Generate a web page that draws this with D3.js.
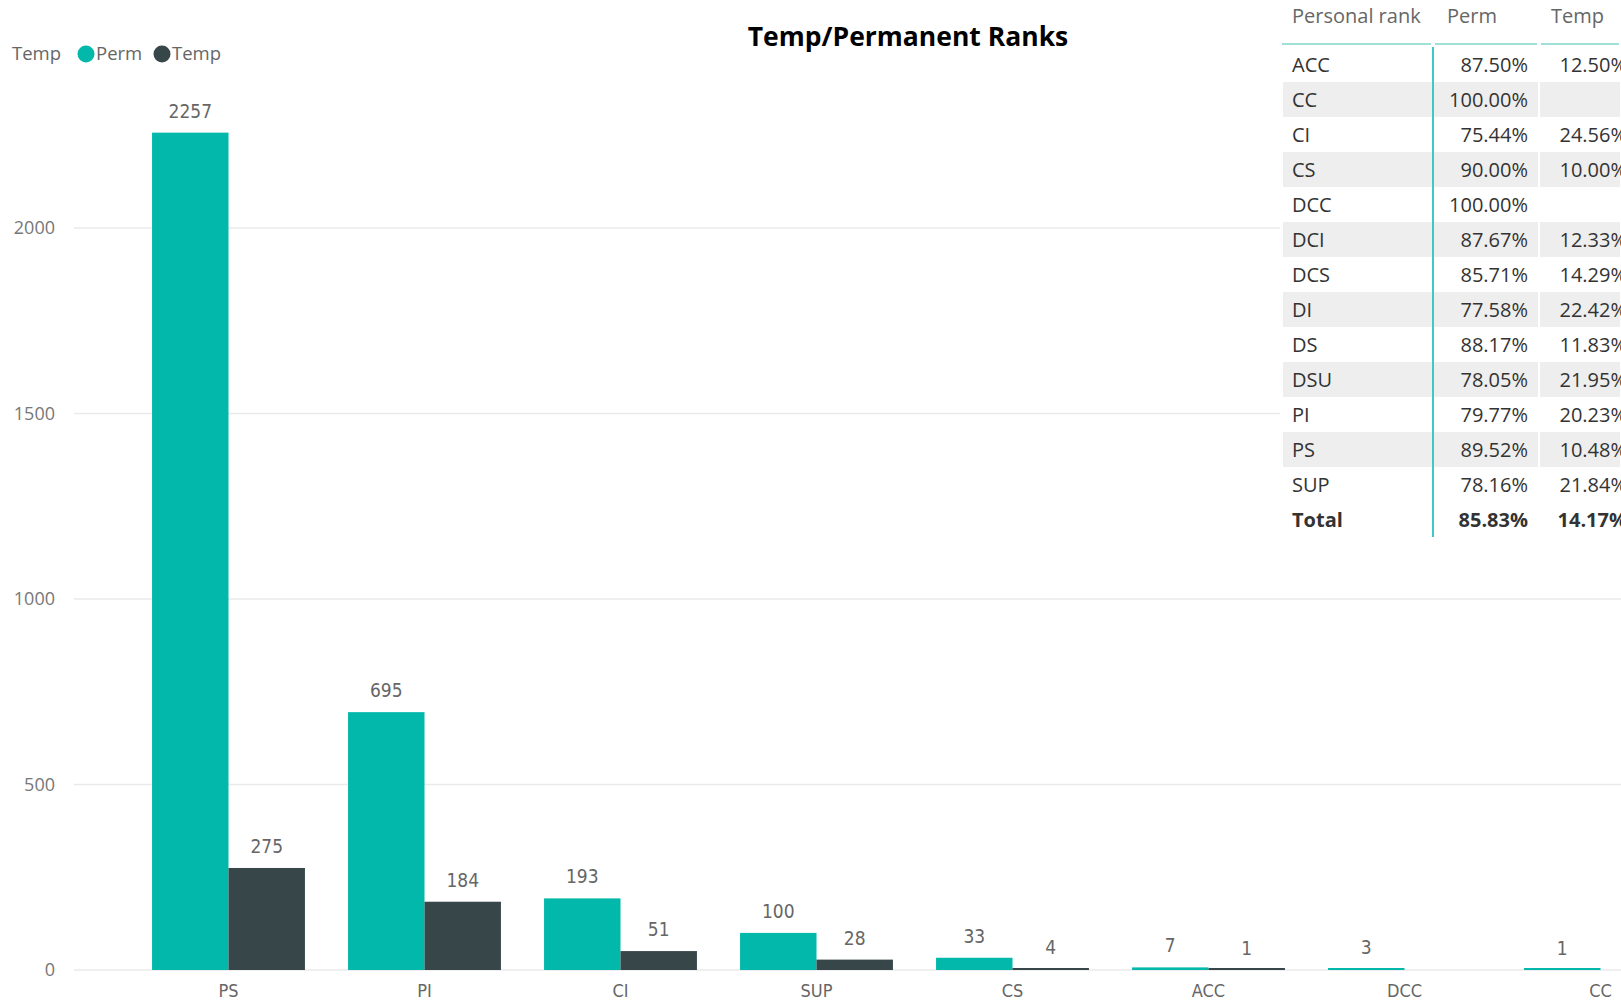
<!DOCTYPE html>
<html>
<head>
<meta charset="utf-8">
<script src="https://cdn.jsdelivr.net/npm/d3@7"></script>
<style>
  body { margin: 0; background: #fff; overflow: hidden; }
</style>
</head>
<body>
<div id="chart"></div>
<script>
let chart_width = 1621;
let chart_height = 1000;

// bar chart data
let ranks = ["PS", "PI", "CI", "SUP", "CS", "ACC", "DCC", "CC"];
let perm_counts = [2257, 695, 193, 100, 33, 7, 3, 1];
let temp_counts = [275, 184, 51, 28, 4, 1, null, null];
let y_ticks = [0, 500, 1000, 1500, 2000];

// table data
let table_ranks = ["ACC", "CC", "CI", "CS", "DCC", "DCI", "DCS", "DI", "DS", "DSU", "PI", "PS", "SUP"];
let table_perm = ["87.50%", "100.00%", "75.44%", "90.00%", "100.00%", "87.67%", "85.71%", "77.58%", "88.17%", "78.05%", "79.77%", "89.52%", "78.16%"];
let table_temp = ["12.50%", "", "24.56%", "10.00%", "", "12.33%", "14.29%", "22.42%", "11.83%", "21.95%", "20.23%", "10.48%", "21.84%"];
let table_total = ["Total", "85.83%", "14.17%"];
let table_header = ["Personal rank", "Perm", "Temp"];

let perm_color = "#01B8AA";
let temp_color = "#374649";
let ui_font = "'Open Sans', 'Noto Sans', sans-serif";
let din_font = "'DejaVu Sans Condensed', 'DejaVu Sans', sans-serif";

let svg = d3
  .select("#chart")
  .append("svg")
  .attr("width", chart_width)
  .attr("height", chart_height);

//scales
let x = d3.scaleBand()
  .domain(ranks)
  .range([130.5, 1698.5])
  .paddingInner(0.22)
  .paddingOuter(0.11);

let x_inner = d3.scaleBand()
  .domain(["perm", "temp"])
  .range([0, x.bandwidth()]);

let y = d3.scaleLinear()
  .domain([0, 2000])
  .range([970, 228]);

//gridlines
svg.append("g")
  .selectAll("line")
  .data(y_ticks)
  .enter()
  .append("line")
  .attr("x1", 74)
  .attr("x2", chart_width)
  .attr("y1", d => y(d))
  .attr("y2", d => y(d))
  .attr("stroke", "#eaeaea")
  .attr("stroke-width", 1.5);

//y axis labels
svg.append("g")
  .selectAll("text")
  .data(y_ticks)
  .enter()
  .append("text")
  .attr("x", 55)
  .attr("y", d => y(d) + 6)
  .attr("text-anchor", "end")
  .style("font-family", ui_font)
  .style("font-size", "18px")
  .style("fill", "#777")
  .text(d => d);

//bars
let rows = ranks.map(function (r, i) {
  return [
    { rank: r, key: "perm", value: perm_counts[i] },
    { rank: r, key: "temp", value: temp_counts[i] },
  ];
});
let flat = rows.flat().filter(d => d.value !== null);

let bars = svg.append("g");
bars.selectAll("rect")
  .data(flat)
  .enter()
  .append("rect")
  .attr("x", d => x(d.rank) + x_inner(d.key))
  .attr("width", x_inner.bandwidth())
  .attr("y", d => Math.min(y(d.value), y(0) - 2))
  .attr("height", d => Math.max(y(0) - y(d.value), 2))
  .attr("fill", d => d.key == "perm" ? perm_color : temp_color);

//data labels
bars.selectAll("text")
  .data(flat)
  .enter()
  .append("text")
  .attr("x", d => x(d.rank) + x_inner(d.key) + x_inner.bandwidth() / 2)
  .attr("y", d => y(d.value) - 15)
  .attr("text-anchor", "middle")
  .style("font-family", din_font)
  .style("font-stretch", "condensed")
  .style("font-size", "19px")
  .style("fill", "#666")
  .text(d => d.value);

//x axis labels
svg.append("g")
  .selectAll("text")
  .data(ranks)
  .enter()
  .append("text")
  .attr("x", d => x(d) + x.bandwidth() / 2)
  .attr("y", 997)
  .attr("text-anchor", "middle")
  .style("font-family", din_font)
  .style("font-stretch", "condensed")
  .style("font-size", "18px")
  .style("fill", "#666")
  .text(d => d);

//title
svg.append("text")
  .attr("x", 908)
  .attr("y", 46)
  .attr("text-anchor", "middle")
  .style("font-family", ui_font)
  .style("font-weight", "bold")
  .style("font-size", "26.5px")
  .style("fill", "#000")
  .text("Temp/Permanent Ranks");

//legend
let legend = svg.append("g").style("font-family", ui_font).style("font-size", "18.5px").style("fill", "#666");
legend.append("text").attr("x", 12).attr("y", 60).text("Temp");
let legend_items = [
  { label: "Perm", color: perm_color, cx: 86 },
  { label: "Temp", color: temp_color, cx: 162 },
];
legend_items.forEach(function (d) {
  legend.append("circle").attr("cx", d.cx).attr("cy", 54).attr("r", 8.5).attr("fill", d.color);
  legend.append("text").attr("x", d.cx + 10).attr("y", 60).text(d.label);
});

// TABLE //
let table = svg.append("g");
let table_x = 1282;
let col_edges = [1282, 1433, 1539, chart_width];

//white background so gridlines stop under the table
table.append("rect")
  .attr("x", table_x - 2)
  .attr("y", 0)
  .attr("width", chart_width - table_x + 2)
  .attr("height", 540)
  .attr("fill", "#fff");

let all_rows = table_ranks.map((r, i) => [r, table_perm[i], table_temp[i]]);
all_rows.push(table_total);

let row_y = d3.scaleBand()
  .domain(d3.range(all_rows.length))
  .range([47, 47 + 35 * all_rows.length]);

//row shading (body rows only, total row stays white)
table.selectAll("g.shade")
  .data(table_ranks.map((r, i) => i).filter(i => i % 2 == 1))
  .enter()
  .append("g")
  .attr("class", "shade")
  .each(function (i) {
    for (let c = 0; c < 3; c++) {
      d3.select(this).append("rect")
        .attr("x", col_edges[c] + 1)
        .attr("y", row_y(i))
        .attr("width", col_edges[c + 1] - col_edges[c] - 2)
        .attr("height", row_y.bandwidth())
        .attr("fill", "#eeeeee");
    }
  });

//header underline
for (let c = 0; c < 3; c++) {
  table.append("line")
    .attr("x1", col_edges[c] + (c == 0 ? 0 : 2))
    .attr("x2", col_edges[c + 1] - 2)
    .attr("y1", 44)
    .attr("y2", 44)
    .attr("stroke", "#9fe0d8")
    .attr("stroke-width", 2);
}

//vertical line after first column
table.append("line")
  .attr("x1", 1433)
  .attr("x2", 1433)
  .attr("y1", 47)
  .attr("y2", row_y(all_rows.length - 1) + row_y.bandwidth())
  .attr("stroke", perm_color)
  .attr("stroke-width", 1.5);

//header text
let header_x = [1292, 1447, 1551];
table.selectAll("text.header")
  .data(table_header)
  .enter()
  .append("text")
  .attr("class", "header")
  .attr("x", (d, i) => header_x[i])
  .attr("y", 23)
  .style("font-family", ui_font)
  .style("font-size", "20px")
  .style("fill", "#666")
  .text(d => d);

//cells
let cell_x = [1292, 1528, 1627];
let cell_anchor = ["start", "end", "end"];
all_rows.forEach(function (row, i) {
  let is_total = i == all_rows.length - 1;
  table.selectAll(null)
    .data(row)
    .enter()
    .append("text")
    .attr("x", (d, c) => cell_x[c])
    .attr("y", row_y(i) + row_y.bandwidth() / 2 + 7)
    .attr("text-anchor", (d, c) => cell_anchor[c])
    .style("font-family", ui_font)
    .style("font-size", "20px")
    .style("font-weight", is_total ? "bold" : "normal")
    .style("fill", "#333")
    .text(d => d);
});
</script>
</body>
</html>
